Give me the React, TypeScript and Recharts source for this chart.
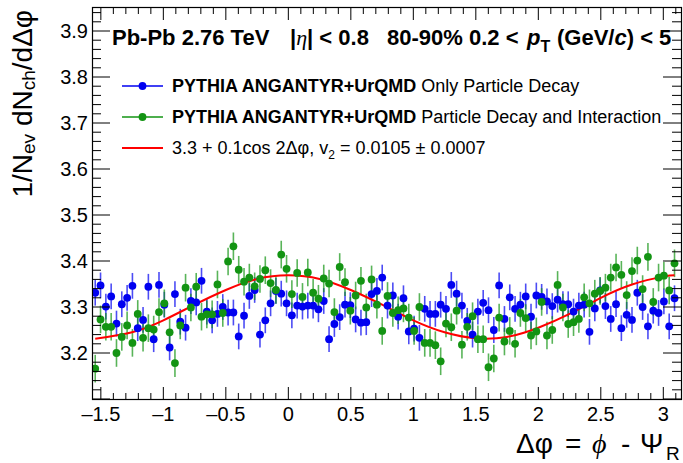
import React from 'react';
import { ComposedChart, Scatter, Line, XAxis, YAxis, ErrorBar } from 'recharts';

const W = 683;
const H = 463;
const PLOT_LEFT = 92;
const PLOT_RIGHT = 681;
const PLOT_TOP = 8;
const PLOT_BOTTOM = 399;
const FONT = '"Liberation Sans", Arial, Helvetica, sans-serif';

// centres of the delta-phi bins
const binFirst = -1.545;
const binStep = 0.04252;

// PYTHIA ANGANTYR+UrQMD, only particle decay
const decayOnly = [
  3.331, 3.347, 3.301, 3.323, 3.264, 3.306, 3.320, 3.346, 3.254, 3.272, 3.344, 3.230, 3.348, 3.305, 3.212, 3.328, 3.268, 3.255,
  3.313, 3.310, 3.357, 3.290, 3.271, 3.285, 3.300, 3.288, 3.288, 3.236, 3.281, 3.324, 3.337, 3.240, 3.271, 3.308, 3.335, 3.329,
  3.308, 3.282, 3.303, 3.301, 3.303, 3.303, 3.295, 3.313, 3.230, 3.263, 3.278, 3.305, 3.304, 3.273, 3.266, 3.267, 3.328, 3.335, 3.364,
  3.303, 3.325, 3.279, 3.319, 3.247, 3.253, 3.233, 3.296, 3.285, 3.285, 3.305, 3.296, 3.348, 3.329, 3.303, 3.270, 3.240, 3.290, 3.309,
  3.293, 3.250, 3.347, 3.274, 3.321, 3.296, 3.305, 3.323, 3.279, 3.325, 3.322, 3.312, 3.302, 3.316, 3.306, 3.306, 3.290, 3.303,
  3.305, 3.246, 3.297, 3.336, 3.302, 3.274, 3.306, 3.254, 3.283, 3.272, 3.331, 3.300, 3.258, 3.292, 3.287, 3.312, 3.258, 3.319,
];

// PYTHIA ANGANTYR+UrQMD, particle decay and interaction
const decayInteraction = [
  3.166, 3.273, 3.257, 3.257, 3.200, 3.235, 3.260, 3.222, 3.285, 3.233, 3.254, 3.251, 3.289, 3.308, 3.245, 3.178, 3.260, 3.342,
  3.299, 3.344, 3.279, 3.284, 3.284, 3.349, 3.287, 3.399, 3.432, 3.381, 3.355, 3.364, 3.345, 3.361, 3.380, 3.352, 3.337, 3.414,
  3.383, 3.328, 3.374, 3.322, 3.375, 3.331, 3.318, 3.362, 3.351, 3.289, 3.387, 3.354, 3.292, 3.325, 3.357, 3.299, 3.360, 3.305, 3.248,
  3.324, 3.287, 3.293, 3.297, 3.277, 3.248, 3.300, 3.222, 3.222, 3.217, 3.182, 3.264, 3.256, 3.292, 3.218, 3.257, 3.280, 3.230, 3.230,
  3.169, 3.188, 3.277, 3.225, 3.248, 3.220, 3.287, 3.276, 3.238, 3.247, 3.311, 3.238, 3.250, 3.348, 3.299, 3.263, 3.267, 3.274,
  3.321, 3.308, 3.329, 3.335, 3.342, 3.364, 3.386, 3.370, 3.326, 3.378, 3.401, 3.339, 3.409, 3.311, 3.364, 3.368, 3.336, 3.395,
];

const decayOnlyErr = 0.028;
const decayInteractionErr = 0.03;

// fit curve
const fitX = [-1.545, -1.25, -1.0, -0.75, -0.5, -0.25, 0, 0.25, 0.5, 0.75, 1.0, 1.25, 1.5, 1.75, 2.0, 2.25, 2.5, 2.75, 3.0, 3.09];
const fitY = [3.231, 3.245, 3.271, 3.305, 3.337, 3.361, 3.369, 3.361, 3.337, 3.305, 3.271, 3.245, 3.232, 3.235, 3.255, 3.285, 3.320, 3.349, 3.366, 3.369];

const xTickLabels = [-1.5, -1, -0.5, 0, 0.5, 1, 1.5, 2, 2.5, 3];
const yTickLabels = [3.2, 3.3, 3.4, 3.5, 3.6, 3.7, 3.8, 3.9];

const xMinorTicks: number[] = [];
for (let k = -15; k <= 31; k++) xMinorTicks.push(k / 10);
const yMinorTicks: number[] = [];
for (let k = 155; k <= 197; k++) yMinorTicks.push(k / 50);

const blueData = decayOnly.map((y, i) => ({ x: binFirst + i * binStep, y, err: decayOnlyErr }));
const greenData = decayInteraction.map((y, i) => ({ x: binFirst + i * binStep, y, err: decayInteractionErr }));
const fitData = fitX.map((x, i) => ({ x, y: fitY[i] }));

const BLUE = '#0000f0';
const GREEN = '#139413';

const fmt = (v: number) => (v < 0 ? '\u2013' + Math.abs(v) : String(v));

const XTick = (props: any) => {
  const { x, payload } = props;
  const v = payload.value;
  const major = xTickLabels.some((t) => Math.abs(t - v) < 1e-6);
  const len = major ? 12 : 6;
  return (
    <g>
      <line x1={x} x2={x} y1={PLOT_BOTTOM} y2={PLOT_BOTTOM - len} stroke="#000" />
      <line x1={x} x2={x} y1={PLOT_TOP} y2={PLOT_TOP + len} stroke="#000" />
      {major && (
        <text x={x} y={421} textAnchor="middle" fontSize={20} fontFamily={FONT} fill="#000">
          {fmt(v)}
        </text>
      )}
    </g>
  );
};

const YTick = (props: any) => {
  const { y, payload } = props;
  const v = payload.value;
  const major = Math.abs(v * 10 - Math.round(v * 10)) < 1e-6;
  const labelled = yTickLabels.some((t) => Math.abs(t - v) < 1e-6);
  const len = major ? 18 : 9;
  return (
    <g>
      <line x1={PLOT_LEFT} x2={PLOT_LEFT + len} y1={y} y2={y} stroke="#000" />
      <line x1={PLOT_RIGHT} x2={PLOT_RIGHT - len} y1={y} y2={y} stroke="#000" />
      {labelled && (
        <text x={88} y={y + 7} textAnchor="end" fontSize={20} fontFamily={FONT} fill="#000">
          {v.toFixed(1)}
        </text>
      )}
    </g>
  );
};

const dot = (color: string) => (p: any) => <circle cx={p.cx} cy={p.cy} r={3.9} fill={color} />;

const Overlay = () => (
  <svg width={W} height={H} style={{ position: 'absolute', left: 0, top: 0, pointerEvents: 'none' }} fontFamily={FONT}>
    <rect x={92.5} y={7.5} width={589} height={392} fill="none" stroke="#000" strokeWidth={1.2} />

    {/* header */}
    <text y={45} fontSize={22} fontWeight="bold" fill="#000">
      <tspan x={112}>Pb-Pb 2.76 TeV</tspan>
      <tspan x={290}>|</tspan>
      <tspan fontStyle="italic" fontWeight="normal" fontFamily='"Liberation Serif", serif'>η</tspan>
      <tspan>{'| < 0.8'}</tspan>
      <tspan x={387}>{'80-90% 0.2 <'}</tspan>
      <tspan x={527} fontStyle="italic">p</tspan>
      <tspan dy={7} fontSize={16}>T</tspan>
      <tspan x={557} dy={-7}>(GeV/</tspan>
      <tspan fontStyle="italic">c</tspan>
      <tspan>{') < 5'}</tspan>
    </text>

    {/* legend */}
    <line x1={122} x2={163} y1={86} y2={86} stroke={BLUE} strokeWidth={1.5} />
    <circle cx={142.5} cy={86} r={3.9} fill={BLUE} />
    <text x={172} y={92} fontSize={18} fill="#000">
      <tspan fontWeight="bold">PYTHIA ANGANTYR+UrQMD</tspan> Only Particle Decay
    </text>
    <line x1={122} x2={163} y1={117} y2={117} stroke={GREEN} strokeWidth={1.5} />
    <circle cx={142.5} cy={117} r={3.9} fill={GREEN} />
    <text x={172} y={123} fontSize={18} fill="#000">
      <tspan fontWeight="bold">PYTHIA ANGANTYR+UrQMD</tspan> Particle Decay and Interaction
    </text>
    <line x1={122} x2={163} y1={148} y2={148} stroke="#ff0000" strokeWidth={2} />
    <text x={172} y={154} fontSize={18} fill="#000">
      3.3 + 0.1cos 2Δφ, v<tspan dy={5} fontSize={12}>2</tspan>
      <tspan dy={-5}> = 0.0105 ± 0.0007</tspan>
    </text>

    {/* axis titles */}
    <text transform="translate(32,10) rotate(-90)" textAnchor="end" fontSize={28} fill="#000">
      1/N<tspan fontSize={19} dy={3}>ev</tspan>
      <tspan dy={-3}> dN</tspan>
      <tspan fontSize={19} dy={3}>ch</tspan>
      <tspan dy={-3}>/dΔφ</tspan>
    </text>
    <text y={453} fontSize={28} fill="#000">
      <tspan x={516}>Δφ</tspan>
      <tspan x={565}>=</tspan>
      <tspan x={592} fontStyle="italic" fontFamily='"Liberation Serif", serif'>ϕ</tspan>
      <tspan x={621}>-</tspan>
      <tspan x={640}>Ψ</tspan>
    </text>
    <text x={666} y={460} fontSize={19} fill="#000">R</text>
  </svg>
);

const App: React.FC = () => {
  return (
    <div style={{ position: 'absolute', left: 0, top: 0, width: W, height: H, background: '#fff' }}>
      <ComposedChart width={W} height={H} margin={{ top: PLOT_TOP, right: W - PLOT_RIGHT, bottom: 0, left: 0 }}>
        <XAxis
          type="number"
          dataKey="x"
          domain={[-Math.PI / 2, Math.PI]}
          allowDataOverflow
          ticks={xMinorTicks}
          interval={0}
          tick={XTick}
          axisLine={false}
          tickLine={false}
          height={H - PLOT_BOTTOM}
        />
        <YAxis
          type="number"
          dataKey="y"
          domain={[3.1, 3.95]}
          allowDataOverflow
          ticks={yMinorTicks}
          interval={0}
          tick={YTick}
          axisLine={false}
          tickLine={false}
          width={PLOT_LEFT}
        />
        <Scatter data={blueData} dataKey="y" shape={dot(BLUE)} isAnimationActive={false}>
          <ErrorBar dataKey="err" direction="y" width={0} stroke={BLUE} strokeOpacity={0.7} strokeWidth={1.6} />
        </Scatter>
        <Scatter data={greenData} dataKey="y" shape={dot(GREEN)} isAnimationActive={false}>
          <ErrorBar dataKey="err" direction="y" width={0} stroke={GREEN} strokeOpacity={0.7} strokeWidth={1.6} />
        </Scatter>
        <Line data={fitData} dataKey="y" type="natural" stroke="#ff0000" strokeWidth={2} dot={false} isAnimationActive={false} />
      </ComposedChart>
      <Overlay />
    </div>
  );
};

export default App;
